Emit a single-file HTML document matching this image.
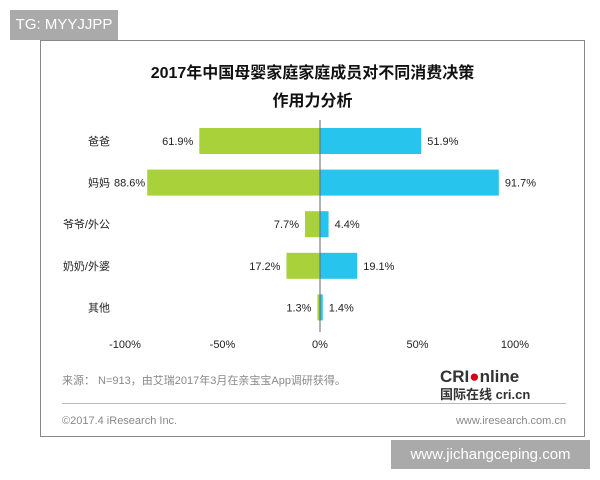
<!DOCTYPE html>
<html><head><meta charset="utf-8"><style>
body{margin:0;width:600px;height:480px;background:#fff;position:relative;overflow:hidden;font-family:"Liberation Sans","Noto Sans CJK SC",sans-serif}
.abs{position:absolute}
</style></head><body>
<div class="abs" style="left:10px;top:10px;width:108px;height:30px;background:#aaa;color:#fff;font-size:15px;line-height:30px;text-align:center">TG: MYYJJPP</div>
<div class="abs" style="left:40px;top:40px;width:545px;height:397px;border:1px solid #888;box-sizing:border-box"></div>
<div class="abs" style="left:40px;top:60px;width:545px;text-align:center;font-size:16px;font-weight:bold;line-height:28px;color:#111">2017年中国母婴家庭家庭成员对不同消费决策<br>作用力分析</div>
<svg class="abs" style="left:0;top:0" width="600" height="480">
<g id="g"></g>
</svg>
<div class="abs" style="left:62px;top:372px;font-size:11px;color:#888">来源： N=913，由艾瑞2017年3月在亲宝宝App调研获得。</div>
<div class="abs" style="left:440px;top:368px;font-size:17px;font-weight:bold;color:#333;line-height:17px">CRI<span style="color:#d0021b">●</span>nline<br><span style="font-size:13px">国际在线 cri.cn</span></div>
<div class="abs" style="left:62px;top:403px;width:504px;height:1px;background:#bbb"></div>
<div class="abs" style="left:62px;top:415px;font-size:11px;color:#888">©2017.4 iResearch Inc.</div>
<div class="abs" style="right:34px;top:415px;font-size:11px;color:#888">www.iresearch.com.cn</div>
<div class="abs" style="left:391px;top:440px;width:199px;height:29px;background:#aaa;color:#fff;font-size:15px;line-height:29px;text-align:center">www.jichangceping.com</div>
<script>
const categories=["爸爸","妈妈","爷爷/外公","奶奶/外婆","其他"];
const leftValues=[61.9,88.6,7.7,17.2,1.3];
const rightValues=[51.9,91.7,4.4,19.1,1.4];
const tickValues=[-100,-50,0,50,100];
const tickLabels=["-100%","-50%","0%","50%","100%"];
const NS="http://www.w3.org/2000/svg";
const g=document.getElementById('g');
const x=v=>320+v*1.95;
const y=i=>141+i*41.6;
function el(t,a){const e=document.createElementNS(NS,t);for(const k in a)e.setAttribute(k,a[k]);g.appendChild(e);return e;}
categories.forEach((c,i)=>{
 const cy=y(i);
 let r=el('rect',{x:x(-leftValues[i]),y:cy-13,width:x(0)-x(-leftValues[i]),height:26,fill:'#a8d13a'});
 
 
 r=el('rect',{x:x(0),y:cy-13,width:x(rightValues[i])-x(0),height:26,fill:'#27c4ee'});
 
 
 let t=el('text',{x:110,y:cy+4,'text-anchor':'end','font-size':11,fill:'#222'});t.textContent=c;
 
 
 const off=leftValues[i]>80?2:6;
 t=el('text',{x:x(-leftValues[i])-off,y:cy+4,'text-anchor':'end','font-size':11,fill:'#222'});t.textContent=leftValues[i].toFixed(1)+'%';
 
 
 t=el('text',{x:x(rightValues[i])+6,y:cy+4,'font-size':11,fill:'#222'});t.textContent=rightValues[i].toFixed(1)+'%';
 
 
});
const ax=el('line',{x1:320,x2:320,y1:120,y2:332,stroke:'#666','stroke-width':1});


tickValues.forEach((v,i)=>{
 const t=el('text',{x:x(v),y:348,'text-anchor':'middle','font-size':11,fill:'#222'});t.textContent=tickLabels[i];
 
 
});
</script>
</body></html>
